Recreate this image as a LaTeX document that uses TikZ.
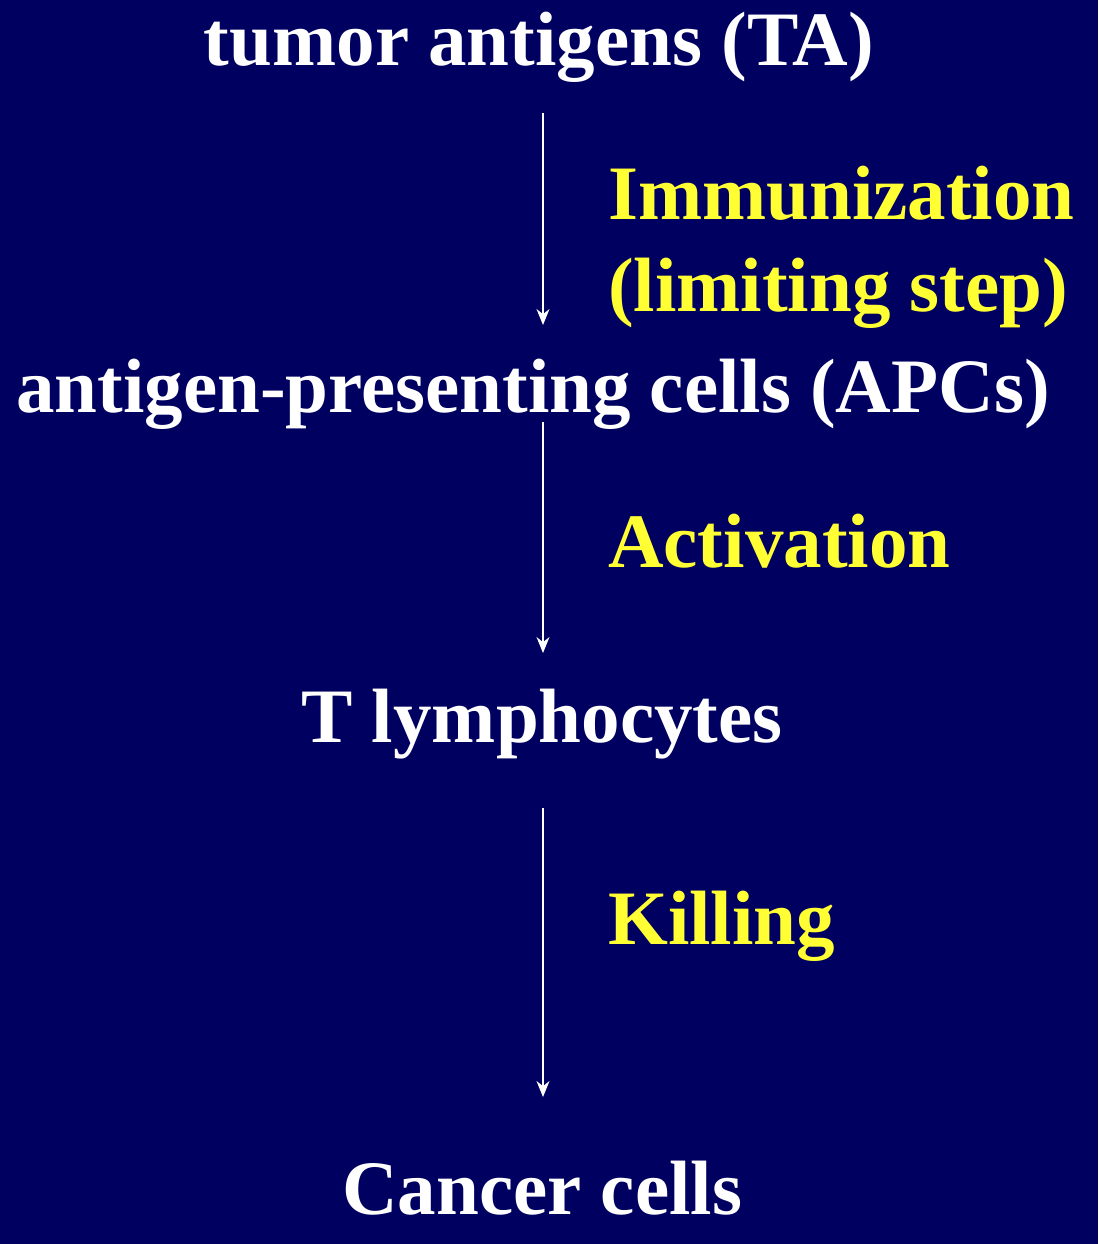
\documentclass[tikz,border=0pt]{standalone}
\usepackage{fontspec}
\setmainfont{Liberation Serif}
\usetikzlibrary{arrows.meta}
\definecolor{bg}{HTML}{000060}
\definecolor{lab}{HTML}{FFFF33}
\tikzset{
 main/.style={text=white,font=\bfseries\fontsize{77}{80}\selectfont,anchor=base,inner sep=0},
 lbl/.style={text=lab,font=\bfseries\fontsize{77}{92}\selectfont,anchor=base west,inner sep=0,align=left},
 arr/.style={draw=white,line width=1.6pt,-{Stealth[length=16pt,width=13pt]}}
}
\begin{document}
\begin{tikzpicture}[x=1pt,y=-1pt]
\fill[bg] (0,0) rectangle (1098,1244);
\useasboundingbox (0,0) rectangle (1098,1244);
\node[main] (ta) at (539,66) {tumor antigens (TA)};
\node[main] (apc) at (533,412) {antigen-presenting cells (APCs)};
\node[main] (tl) at (542,742) {T lymphocytes};
\node[main] (cc) at (542,1214) {Cancer cells};
\coordinate (a1) at (543,113); \coordinate (b1) at (543,325);
\coordinate (a2) at (543,422); \coordinate (b2) at (543,653);
\coordinate (a3) at (543,808); \coordinate (b3) at (543,1097);
\draw[arr] (a1) -- (b1);
\draw[arr] (a2) -- (b2);
\draw[arr] (a3) -- (b3);
\node[lbl] (l1) at (608,219) {Immunization};
\node[lbl] (l1b) at (608,311) {(limiting step)};
\node[lbl] (l2) at (608,567) {Activation};
\node[lbl] (l3) at (608,944) {Killing};
\end{tikzpicture}
\end{document}
